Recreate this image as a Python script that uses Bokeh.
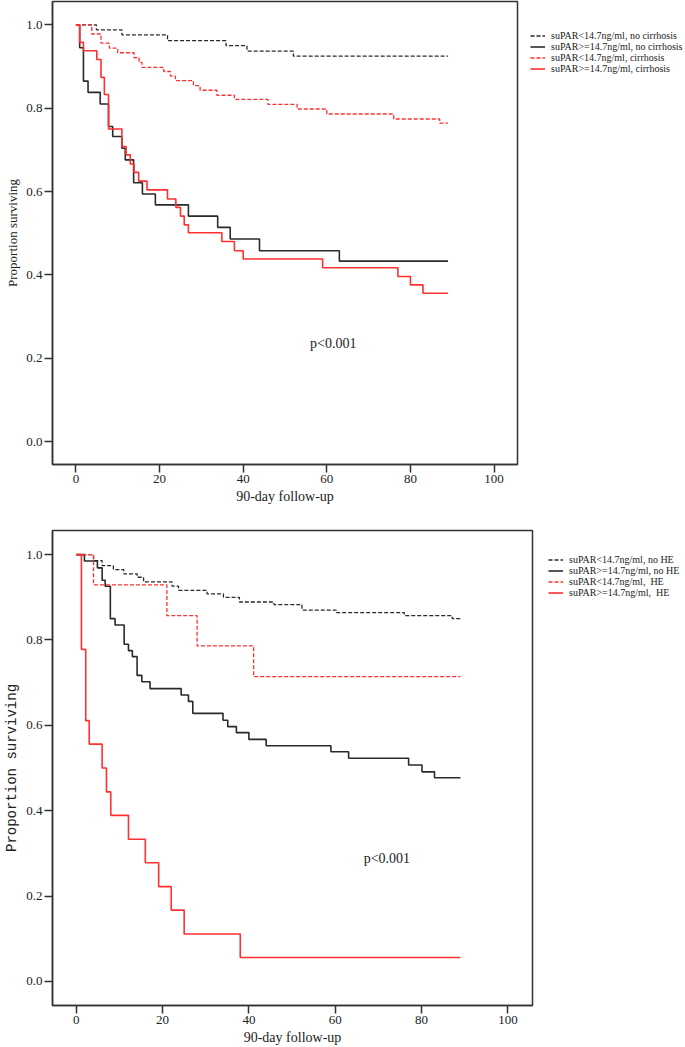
from bokeh.plotting import figure
from bokeh.models import Range1d, FixedTicker, NumeralTickFormatter, Legend, LegendItem
from bokeh.layouts import column, row
from bokeh.core.properties import value
from bokeh.embed import file_html
from bokeh.resources import INLINE

# ---------------- data: panel A (cirrhosis) ----------------
a_labels = ["suPAR<14.7ng/ml, no cirrhosis", "suPAR>=14.7ng/ml, no cirrhosis",
            "suPAR<14.7ng/ml, cirrhosis", "suPAR>=14.7ng/ml, cirrhosis"]
a1_x = [0, 4.9, 11, 21.9, 35.9, 40.9, 52, 89]
a1_y = [1.0, 0.988, 0.976, 0.962, 0.950, 0.937, 0.925, 0.925]
a2_x = [0, 0.9, 1.8, 2.9, 5.8, 7.8, 8.8, 11, 11.8, 13.8, 15.9, 19, 26.9, 33.9, 36.9, 43.9, 63, 89]
a2_y = [1.0, 0.945, 0.865, 0.838, 0.810, 0.756, 0.732, 0.704, 0.676, 0.621, 0.594, 0.568,
        0.541, 0.514, 0.486, 0.458, 0.433, 0.433]
a3_x = [0, 3.8, 6.0, 8.0, 10.0, 13.9, 15.1, 15.8, 21.0, 22.6, 23.8, 28.1, 29.7, 33.7, 37.9,
        45.9, 52.9, 60, 76, 87, 89]
a3_y = [1.0, 0.978, 0.956, 0.944, 0.933, 0.921, 0.910, 0.898, 0.888, 0.877, 0.866, 0.854,
        0.843, 0.831, 0.821, 0.809, 0.798, 0.786, 0.774, 0.764, 0.764]
a4_x = [0, 0.9, 1.8, 5.0, 6.0, 6.8, 7.8, 11.0, 12.0, 13.0, 13.9, 15.0, 17.0, 21.9, 23.9, 25.0,
        25.9, 26.9, 34.9, 37.9, 40.0, 59, 77, 80, 83, 89]
a4_y = [1.0, 0.958, 0.938, 0.917, 0.874, 0.833, 0.750, 0.708, 0.688, 0.666, 0.646, 0.625,
        0.604, 0.582, 0.562, 0.541, 0.520, 0.501, 0.480, 0.458, 0.438, 0.417, 0.396, 0.376,
        0.356, 0.356]

# ---------------- data: panel B (HE) ----------------
b_labels = ["suPAR<14.7ng/ml, no HE", "suPAR>=14.7ng/ml, no HE",
            "suPAR<14.7ng/ml,  HE", "suPAR>=14.7ng/ml,  HE"]
b1_x = [0, 4.0, 6, 8.6, 11, 14.1, 15.6, 22.2, 23.7, 30.3, 34.1, 37.8, 45.8, 52.3, 60.2, 76, 87.1, 89]
b1_y = [1.0, 0.986, 0.974, 0.965, 0.955, 0.947, 0.936, 0.926, 0.916, 0.908, 0.900, 0.889,
        0.883, 0.870, 0.864, 0.857, 0.850, 0.850]
b2_x = [0, 1.9, 4.9, 6.0, 6.7, 7.9, 9, 11.1, 12.1, 13.0, 14.1, 15.2, 17.1, 24.3, 26, 27, 34,
        35.1, 37.1, 40, 44, 59, 63.1, 77, 80.1, 83, 89]
b2_y = [1.0, 0.985, 0.969, 0.940, 0.926, 0.850, 0.835, 0.790, 0.775, 0.761, 0.717, 0.702,
        0.686, 0.671, 0.656, 0.628, 0.612, 0.597, 0.583, 0.567, 0.552, 0.538, 0.523, 0.507,
        0.491, 0.477, 0.477]
b3_x = [0, 4.0, 21.0, 28.0, 41.1, 89]
b3_y = [1.0, 0.929, 0.857, 0.786, 0.714, 0.714]
b4_x = [0, 1.2, 2.2, 3.0, 6.0, 7.0, 8.0, 12.1, 16.0, 19.1, 22.0, 25.0, 38.0, 89]
b4_y = [1.0, 0.778, 0.611, 0.556, 0.500, 0.444, 0.389, 0.333, 0.278, 0.222, 0.167, 0.111,
        0.056, 0.056]

x_ticks = [0, 20, 40, 60, 80, 100]
y_ticks = [0.0, 0.2, 0.4, 0.6, 0.8, 1.0]
p_text = "p<0.001"
x_title = "90-day follow-up"
y_title = "Proportion surviving"

BLACK = "#2a2a2a"
RED = "#ff3030"
AXC = "#333333"
FIG_W = 685
LEFT = 52
STYLES = [(BLACK, "4 2", 1.3), (BLACK, "solid", 1.6), (RED, "4 2", 1.3), (RED, "solid", 1.6)]


def make_panel(height, frame_w, bt, bb, xr, yr, series, ptxt_xy, ylab_font, ylab_size):
    p = figure(width=LEFT + frame_w + 2, height=height, x_range=Range1d(*xr), y_range=Range1d(*yr),
               output_backend="svg", toolbar_location=None,
               min_border_left=LEFT, min_border_right=2,
               min_border_top=bt, min_border_bottom=bb)
    p.xgrid.visible = False
    p.ygrid.visible = False
    p.outline_line_color = AXC
    p.outline_line_width = 1.5
    p.background_fill_color = "white"
    p.border_fill_color = "white"
    for ax in (p.xaxis[0], p.yaxis[0]):
        ax.axis_line_color = AXC
        ax.axis_line_width = 1.5
        ax.major_tick_line_color = AXC
        ax.major_tick_line_width = 1.5
        ax.major_tick_out = 8
        ax.major_tick_in = 0
        ax.minor_tick_line_color = None
        ax.major_label_standoff = 2
        ax.major_label_text_font = "Liberation Serif"
        ax.major_label_text_font_size = "13px"
        ax.major_label_text_color = "#222222"
        ax.axis_label_text_font_style = "normal"
        ax.axis_label_text_color = "#222222"
        ax.axis_label_standoff = 3
    p.xaxis.ticker = FixedTicker(ticks=x_ticks)
    p.yaxis.ticker = FixedTicker(ticks=y_ticks)
    p.yaxis.formatter = NumeralTickFormatter(format="0.0")
    p.xaxis.axis_label = x_title
    p.xaxis.axis_label_text_font = "Liberation Serif"
    p.xaxis.axis_label_text_font_size = "14px"
    p.yaxis.axis_label = y_title
    p.yaxis.axis_label_text_font = ylab_font
    p.yaxis.axis_label_text_font_size = ylab_size

    for (xs, ys), (col, dash, lw) in zip(series, STYLES):
        p.step(xs, ys, mode="after", line_color=col, line_dash=dash, line_width=lw)

    p.text(x=[ptxt_xy[0]], y=[ptxt_xy[1]], text=[p_text], text_font=value("Liberation Serif"),
           text_font_size="14px", text_align="left", text_baseline="middle", text_color="#222222")
    return p


def make_legend(width, height, series, labels, dx, top, size):
    # separate legend panel; its ranges lie outside the data so only the legend shows
    q = figure(width=width, height=height, x_range=Range1d(500, 501), y_range=Range1d(500, 501),
               output_backend="svg", toolbar_location=None, min_border=0,
               x_axis_type=None, y_axis_type=None)
    q.xgrid.visible = False
    q.ygrid.visible = False
    q.outline_line_color = None
    q.background_fill_color = "white"
    q.border_fill_color = "white"
    items = []
    for (xs, ys), (col, dash, lw), lab in zip(series, STYLES, labels):
        r = q.step(xs, ys, mode="after", line_color=col, line_dash=dash, line_width=lw)
        items.append(LegendItem(label=lab, renderers=[r]))
    rowh = 11
    leg_h = len(items) * rowh
    leg = Legend(items=items, location=(dx, height - top - 2 * leg_h),
                 background_fill_alpha=0, border_line_color=None, padding=0, margin=0,
                 spacing=0, label_height=rowh, glyph_height=rowh, glyph_width=15,
                 label_standoff=6, label_text_font="Liberation Serif",
                 label_text_font_size=size, label_text_color="#222222")
    q.add_layout(leg)
    return q


a_series = [(a1_x, a1_y), (a2_x, a2_y), (a3_x, a3_y), (a4_x, a4_y)]
b_series = [(b1_x, b1_y), (b2_x, b2_y), (b3_x, b3_y), (b4_x, b4_y)]

pa = make_panel(518, 465, 1, 54, (-5.6, 105.6), (-0.055, 1.056), a_series,
                (56.0, 0.235), "Liberation Serif", "13px")
la = make_legend(FIG_W - pa.width, 518, a_series, a_labels, 11, 40, "10px")

pb = make_panel(529, 480, 12, 39, (-5.5, 105.7), (-0.0565, 1.0565), b_series,
                (66.6, 0.288), "Liberation Mono", "14px")
lb = make_legend(FIG_W - pb.width, 529, b_series, b_labels, 14, 34, "10px")

layout = column(row(pa, la, spacing=0), row(pb, lb, spacing=0), spacing=0)
open("out.html", "w").write(file_html(layout, INLINE))
